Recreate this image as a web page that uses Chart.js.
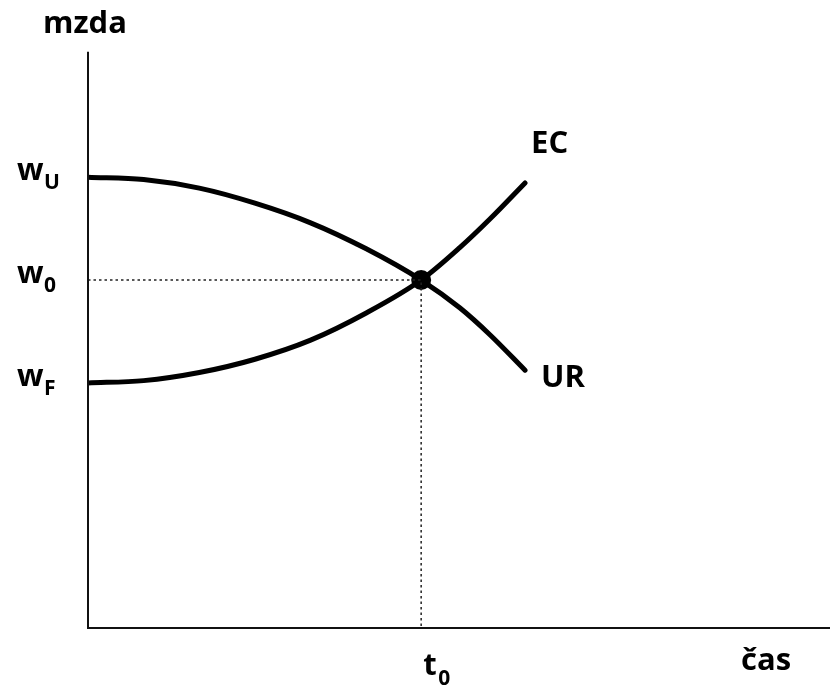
<!DOCTYPE html>
<html>
<head>
<meta charset="utf-8">
<script src="https://cdn.jsdelivr.net/npm/chart.js@4/dist/chart.umd.min.js"></script>
<style>
    html, body { margin: 0; padding: 0; background: #fff; }
    #wrap { width: 830px; height: 686px; }
</style>
</head>
<body>
<div id="wrap"><canvas id="mzda"></canvas></div>
<script>
// cas (x) a mzda (y)
var casX = [0, 0.75, 1.5, 2.25, 3.0, 3.75, 4.49, 5.01, 5.42, 5.89];
var urY = [7.80, 7.76, 7.61, 7.35, 7.01, 6.56, 6.02, 5.54, 5.07, 4.46];
var ecY = [4.24, 4.28, 4.42, 4.65, 4.98, 5.45, 6.02, 6.58, 7.08, 7.70];

var wageTicks = [7.80, 6.02, 4.24];
var wageSubs = ["U", "0", "F"];
var t0 = 4.49;
var w0 = 6.02;

function pts(xs, ys) {
    return xs.map(function (x, i) { return { x: x, y: ys[i] }; });
}

var FONT = "'Open Sans', 'DejaVu Sans', sans-serif";

var labelsPlugin = {
    id: "labels",
    afterDraw: function (chart) {
        var c = chart.ctx;
        var xs = chart.scales.x;
        var ys = chart.scales.y;
        var ax = xs.getPixelForValue(0);
        var ay = ys.getPixelForValue(0);
        c.save();
        c.fillStyle = "#000";
        c.textBaseline = "alphabetic";

        // osa y popisek
        c.font = "bold 31px " + FONT;
        c.textAlign = "center";
        c.fillText("mzda", ax - 3, ys.getPixelForValue(10) - 17);

        // w ticky
        wageTicks.forEach(function (v, i) {
            var py = ys.getPixelForValue(v);
            c.font = "bold 31px " + FONT;
            c.textAlign = "left";
            c.fillText("w", 17, py + 3);
            c.font = "bold 21px " + FONT;
            c.fillText(wageSubs[i], 44, py + 12);
        });

        // t0
        var tx = xs.getPixelForValue(t0);
        c.font = "bold 31px " + FONT;
        c.textAlign = "left";
        c.fillText("t", tx + 2, ay + 47);
        c.font = "bold 21px " + FONT;
        c.fillText("0", tx + 17, ay + 57);

        // cas
        c.font = "bold 31px " + FONT;
        c.fillText("čas", 741, ay + 42);

        // krivky
        var n = casX.length - 1;
        var ex = xs.getPixelForValue(casX[n]);
        c.fillText("EC", ex + 6, ys.getPixelForValue(ecY[n]) - 30);
        c.fillText("UR", ex + 16, ys.getPixelForValue(urY[n]) + 17);
        c.restore();
    },
};

var ctx = document.getElementById("mzda");
var graph = new Chart(ctx, {
    type: "line",
    data: {
        datasets: [
            {
                label: "osy",
                data: [{ x: 0, y: 9.97 }, { x: 0, y: 0 }, { x: 10, y: 0 }],
                borderColor: "#111",
                borderWidth: 2,
                pointRadius: 0,
                tension: 0,
                clip: false,
            },
            {
                label: "pomocne",
                data: [{ x: 0, y: w0 }, { x: t0, y: w0 }, { x: t0, y: 0 }],
                borderColor: "#222",
                borderWidth: 1.5,
                borderDash: [2.5, 3],
                pointRadius: 0,
                tension: 0,
            },
            {
                label: "UR",
                data: pts(casX, urY),
                borderColor: "#000",
                borderWidth: 5,
                borderCapStyle: "round",
                pointRadius: 0,
                cubicInterpolationMode: "monotone",
            },
            {
                label: "EC",
                data: pts(casX, ecY),
                borderColor: "#000",
                borderWidth: 5,
                borderCapStyle: "round",
                pointRadius: 0,
                cubicInterpolationMode: "monotone",
            },
            {
                label: "rovnovaha",
                data: [{ x: t0, y: w0 }],
                showLine: false,
                pointRadius: 10,
                pointBackgroundColor: "#000",
                pointBorderWidth: 0,
            },
        ],
    },
    options: {
        responsive: true,
        maintainAspectRatio: false,
        animation: false,
        layout: {
            autoPadding: false,
            padding: { left: 88, right: 0, top: 50, bottom: 58 },
        },
        scales: {
            x: { type: "linear", min: 0, max: 10, display: false },
            y: { type: "linear", min: 0, max: 10, display: false },
        },
        plugins: {
            legend: { display: false },
            tooltip: { enabled: false },
        },
    },
    plugins: [labelsPlugin],
});
</script>
</body>
</html>
